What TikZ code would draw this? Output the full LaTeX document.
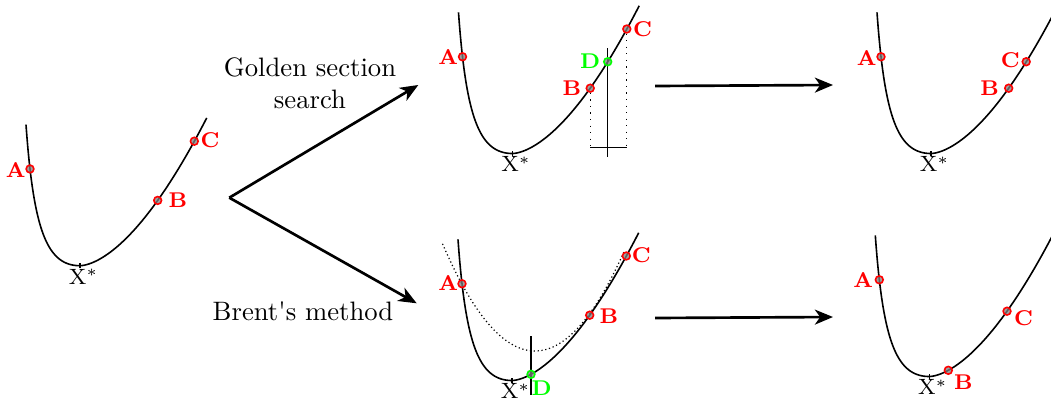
\documentclass[tikz,border=0pt]{standalone}
\usetikzlibrary{arrows.meta}
\newcommand\fpanel[3]{% name, x and y of the minimum (px)
  \coordinate (#1) at (#2,#3);
  \draw[curve] plot[domain=-54:0,samples=160] ({#2+\x},{#3-0.774*(\x)*(\x)/(70+(\x))})
     -- plot[domain=0.5:126.7,samples=100] ({#2+\x},{#3-0.0455*pow(\x,1.67)});
  \draw[mintick] ({#2},{#3-2.5}) -- ({#2},{#3+2.5});
  \node[xstar] (#1x) at ({#2+3.5},{#3+18.3}) {X$^*$};
}
\begin{document}
\begin{tikzpicture}[x=0.375pt,y=-0.375pt,
  curve/.style={line width=0.6pt},
  mintick/.style={line width=0.55pt},
  thinline/.style={line width=0.4pt},
  dotline/.style={line width=0.45pt,dotted},
  redpt/.style={circle,draw=red,fill=gray,fill opacity=0.75,draw opacity=1,line width=0.6pt,inner sep=0pt,minimum size=2.9pt},
  greenpt/.style={redpt,draw=green},
  lab/.style={text=red,font=\fontsize{8}{9.5}\selectfont\bfseries,inner sep=0pt},
  glab/.style={lab,text=green},
  xstar/.style={font=\fontsize{8.3}{10}\selectfont,inner sep=0pt,anchor=base},
  bigarrow/.style={line width=1pt,-{Stealth[length=6.8pt,width=5.6pt,inset=2pt]}},
  caption/.style={font=\normalsize,inner sep=0pt}]
\useasboundingbox (0,0) rectangle (1051,403);
\clip (0,0) rectangle (1051,403);

% ---- left panel
\fpanel{M0}{80}{265.7}
\node[redpt] (A0) at (30,168.95) {};
\node[redpt] (B0) at (157.7,200.4) {};
\node[redpt] (C0) at (194.3,141.2) {};
\node[lab] at ([shift={(-14.3,0.7)}]A0) {A};
\node[lab] at ([shift={(20.3,-0.7)}]B0) {B};
\node[lab] at ([shift={(15.7,-0.6)}]C0) {C};

% ---- fork arrows and captions
\coordinate (fork) at (229.3,197.7);
\coordinate (gsTip) at (418.3,85);
\coordinate (brTip) at (416.7,303.3);
\draw[bigarrow] (fork) -- (gsTip);
\draw[bigarrow] (fork) -- (brTip);
\node[caption,anchor=north,align=center] (gs) at (310,57.5) {Golden section\\search};
\node[caption,anchor=base] (br) at (303,320) {Brent\textquotesingle s method};

% ---- top middle panel (golden section)
\fpanel{M1}{512.5}{153.5}
\coordinate (gsL) at (590.2,147.7);
\coordinate (gsR) at (626.8,147.7);
\coordinate (dTop) at (607.7,48.3);
\coordinate (dBot) at (607.7,156.7);
\node[redpt] (A1) at (462.5,56.75) {};
\node[redpt] (B1) at (590.2,88.2) {};
\node[redpt] (C1) at (626.8,29.0) {};
\draw[dotline] (B1) -- (gsL);
\draw[dotline] (C1) -- (gsR);
\draw[thinline] (gsL) -- (gsR);
\draw[thinline] (dTop) -- (dBot);
\node[greenpt] (D1) at (607.7,61.75) {};
\node[lab] at ([shift={(-14.4,0)}]A1) {A};
\node[lab] at ([shift={(-18.3,0)}]B1) {B};
\node[lab] at ([shift={(15.7,0)}]C1) {C};
\node[glab] at ([shift={(-17.7,-1)}]D1) {D};

% ---- top right panel
\fpanel{M2}{931}{153.5}
\node[redpt] (A2) at (881,56.75) {};
\node[redpt] (B2) at (1008.7,88.2) {};
\node[redpt] (C2) at (1026.2,61.75) {};
\node[lab] at ([shift={(-14.3,1)}]A2) {A};
\node[lab] at ([shift={(-19,0)}]B2) {B};
\node[lab] at ([shift={(-16,-1.5)}]C2) {C};

% ---- bottom middle panel (Brent)
\fpanel{M3}{512}{380.5}
\draw[dotline,densely dotted] plot[domain=442.5:624,samples=80] (\x,{351-0.01252*(\x-535)*(\x-535)});
\coordinate (bTop) at (531,336);
\coordinate (bBot) at (531,395);
\draw[thinline] (bTop) -- (bBot);
\node[redpt] (A3) at (462,283.75) {};
\node[redpt] (B3) at (589.7,315.2) {};
\node[redpt] (C3) at (626.3,256) {};
\node[greenpt] (D3) at (531,374.3) {};
\node[lab] at ([shift={(-13.7,-0.5)}]A3) {A};
\node[lab] at ([shift={(19.3,1.3)}]B3) {B};
\node[lab] at ([shift={(15,-0.5)}]C3) {C};
\node[glab] at ([shift={(10.7,14.3)}]D3) {D};

% ---- bottom right panel
\fpanel{M4}{929.3}{376.5}
\node[redpt] (A4) at (879.3,279.75) {};
\node[redpt] (B4) at (948.3,370.3) {};
\node[redpt] (C4) at (1007,311.2) {};
\node[lab] at ([shift={(-16,0.7)}]A4) {A};
\node[lab] at ([shift={(15,12.3)}]B4) {B};
\node[lab] at ([shift={(16.6,6.6)}]C4) {C};

% ---- horizontal arrows
\coordinate (h1s) at (655,86);
\coordinate (h1e) at (833,85);
\coordinate (h2s) at (655,318);
\coordinate (h2e) at (833,317);
\draw[bigarrow] (h1s) -- (h1e);
\draw[bigarrow] (h2s) -- (h2e);
\end{tikzpicture}
\end{document}
